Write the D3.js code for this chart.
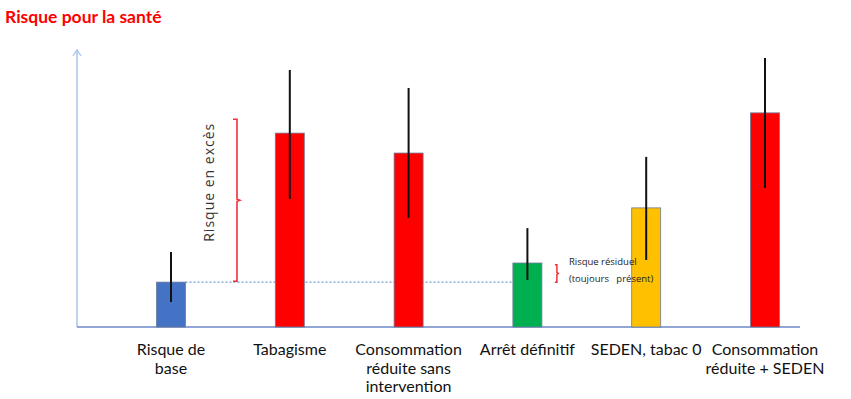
<!DOCTYPE html>
<html><head><meta charset="utf-8">
<script src="https://cdn.jsdelivr.net/npm/d3@7"></script>
<style>
html,body{margin:0;padding:0;background:#fff;}
svg{display:block;font-family:Lato,"Open Sans",sans-serif;}
</style></head>
<body>
<svg id="chart" width="851" height="399"></svg>
<script>
// ---- data ----
const categories = ["Risque de base","Tabagisme","Consommation réduite sans intervention","Arrêt définitif","SEDEN, tabac 0","Consommation réduite + SEDEN"];
const labelLines = [["Risque de","base"],["Tabagisme"],["Consommation","réduite sans","intervention"],["Arrêt définitif"],["SEDEN, tabac 0"],["Consommation","réduite + SEDEN"]];
const riskValues = [16.2, 70.0, 62.8, 23.1, 43.0, 77.3];
const errLow  = [9.0, 46.2, 39.4, 17.0, 24.2, 50.2];
const errHigh = [27.1, 92.8, 86.3, 35.7, 61.4, 97.1];
const barColors = ["#4472C4","#FF0000","#FF0000","#00B050","#FFC000","#FF0000"];
const excessRange = [16.5, 75.0];
const residualRange = [16.2, 22.5];
const yDomain = [0, 100];

// ---- layout ----
const svg = d3.select("#chart");
const axisX = 77, baseY = 327, topY = 50;
const y = d3.scaleLinear().domain(yDomain).range([baseY, topY]);
const x = d3.scalePoint().domain(categories).range([171, 765]);
const barW = 29;

// title
svg.append("text").attr("x",5).attr("y",23)
  .attr("fill","#FF0000").attr("font-weight","bold").attr("font-size",17.5)
  .attr("font-family","Lato, sans-serif")
  .text("Risque pour la santé");

// dotted reference line at base risk
svg.append("line")
  .attr("x1", x(categories[0]) + barW/2).attr("x2", x(categories[3]) - barW/2)
  .attr("y1", y(riskValues[0])).attr("y2", y(riskValues[0]))
  .attr("stroke","#6F9BD6").attr("stroke-width",1.2).attr("stroke-dasharray","2,2");

// axes
svg.append("line").attr("x1",axisX).attr("x2",axisX).attr("y1",baseY).attr("y2",topY)
  .attr("stroke","#A9C4EC").attr("stroke-width",1.5);
svg.append("path").attr("d",`M${axisX-4},${topY+6} L${axisX},${topY} L${axisX+4},${topY+6}`)
  .attr("fill","none").attr("stroke","#A9C4EC").attr("stroke-width",1.3);
svg.append("line").attr("x1",axisX).attr("x2",800).attr("y1",baseY).attr("y2",baseY)
  .attr("stroke","#8FA6D6").attr("stroke-width",1.8);

// bars
svg.selectAll("rect.bar").data(categories).join("rect").attr("class","bar")
  .attr("x", d => x(d) - barW/2)
  .attr("width", barW)
  .attr("y", (d,i) => y(riskValues[i]))
  .attr("height", (d,i) => baseY - y(riskValues[i]))
  .attr("fill", (d,i) => barColors[i])
  .attr("stroke","#6C7A99").attr("stroke-width",0.8);

// error bars
svg.selectAll("line.err").data(categories).join("line").attr("class","err")
  .attr("x1", d => x(d)).attr("x2", d => x(d))
  .attr("y1", (d,i) => y(errHigh[i])).attr("y2", (d,i) => y(errLow[i]))
  .attr("stroke","#111").attr("stroke-width",2);

// brace helper "}"
function brace(xb, y1, y2, w){
  const m = (y1+y2)/2;
  return `M${xb-w},${y1} L${xb},${y1} L${xb},${m-1} L${xb+w*0.7},${m} L${xb},${m+1} L${xb},${y2} L${xb-w},${y2}`;
}
svg.append("path")
  .attr("d", brace(237, y(excessRange[1]), y(excessRange[0]), 4))
  .attr("fill","none").attr("stroke","#F0303A").attr("stroke-width",1.6);
svg.append("text")
  .attr("transform", `translate(214,${(y(excessRange[0])+y(excessRange[1]))/2 - 18}) rotate(-90)`)
  .attr("text-anchor","middle").attr("font-size",14).attr("letter-spacing",1)
  .attr("fill","#333").attr("font-family","'Open Sans', sans-serif")
  .text("Risque en excès");

const resX = x(categories[3]) + barW/2 + 15;
svg.append("path")
  .attr("d", brace(resX, y(residualRange[1]), y(residualRange[0]), 2))
  .attr("fill","none").attr("stroke","#F0303A").attr("stroke-width",1.5);
const resText = svg.append("text").attr("font-size",9.5).attr("fill","#222")
  .attr("font-family","'Open Sans', sans-serif");
resText.append("tspan").attr("x", resX+12).attr("y", 265).text("Risque résiduel");
resText.append("tspan").attr("x", resX+12).attr("y", 282).attr("xml:space","preserve").text("(toujours   présent)");

// category labels
const lab = svg.selectAll("text.cat").data(categories).join("text").attr("class","cat")
  .attr("text-anchor","middle").attr("font-size",16).attr("fill","#111")
  .attr("font-family","Lato, sans-serif");
lab.each(function(d,i){
  const t = d3.select(this);
  labelLines[i].forEach((ln,k) => {
    t.append("tspan").attr("x", x(d)).attr("y", 355 + k*18.5).text(ln);
  });
});
</script>
</body></html>
